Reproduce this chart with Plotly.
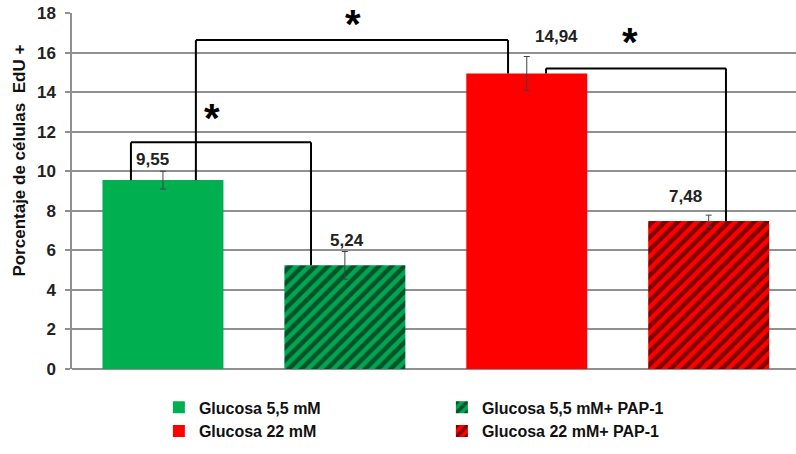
import plotly.graph_objects as go

# Grupos experimentales y porcentaje de células EdU+
groups = ["Glucosa 5,5 mM", "Glucosa 5,5 mM+ PAP-1", "Glucosa 22 mM", "Glucosa 22 mM+ PAP-1"]
values = [9.55, 5.24, 14.94, 7.48]
errors = [0.45, 0.70, 0.86, 0.30]
y_ticks = [0, 2, 4, 6, 8, 10, 12, 14, 16, 18]

FONT = "Liberation Sans, Arial, sans-serif"
fills = ["#00B050", "#00A651", "#FF0000", "#FF0000"]
hatched = [False, True, False, True]

fig = go.Figure()
for i, (g, v, e) in enumerate(zip(groups, values, errors)):
    pattern = dict(shape="/", fgcolor="#000000", bgcolor=fills[i], size=9, solidity=0.5) if hatched[i] else dict(shape="")
    fig.add_trace(go.Bar(
        x=[g], y=[v], name=g, width=0.665,
        marker=dict(color=fills[i], line=dict(width=0), pattern=pattern),
        error_y=dict(type="data", array=[e], visible=True, color="#444444", thickness=1, width=3),
        hoverinfo="skip",
    ))

# Etiquetas de valor (coma decimal)
label_dx = [-0.055, 0.01, 0.166, -0.13]
label_dy = [1.02, 1.28, 1.89, 1.22]
for i, v in enumerate(values):
    fig.add_annotation(x=i + label_dx[i], y=v + label_dy[i], text=f"{v:.2f}".replace(".", ","),
                       showarrow=False, font=dict(family=FONT, size=17, color="#222222", weight="bold"),
                       xanchor="center", yanchor="middle")

# Corchetes de significación
line = dict(color="#000000", width=2)
def bracket(x0, x1, y_left, y_right, top):
    fig.add_shape(type="line", x0=x0, x1=x0, y0=y_left, y1=top, line=line)
    fig.add_shape(type="line", x0=x0, x1=x1, y0=top, y1=top, line=line)
    fig.add_shape(type="line", x0=x1, x1=x1, y0=top, y1=y_right, line=line)

bracket(-0.176, 0.814, values[0], values[1], 11.46)
bracket(0.181, 1.897, values[0], values[2], 16.63)
bracket(2.106, 3.095, values[2], values[3], 15.20)

for sx, sy in [(0.27, 12.95), (1.043, 17.7), (2.567, 16.8)]:
    fig.add_annotation(x=sx, y=sy, text="*", showarrow=False,
                       font=dict(family=FONT, size=40, color="#000000", weight="bold"),
                       xanchor="center", yanchor="top", yshift=19)

# Título del eje Y
fig.add_annotation(xref="paper", yref="paper", x=-0.072, y=0.585, text="Porcentaje de células  EdU +",
                   textangle=-90, showarrow=False,
                   font=dict(family=FONT, size=17, color="#111111", weight="bold"),
                   xanchor="center", yanchor="middle")

fig.update_layout(
    width=796, height=454,
    margin=dict(l=72, r=0, t=13, b=85),
    paper_bgcolor="white", plot_bgcolor="white",
    barmode="overlay",
    showlegend=True,
    legend=dict(orientation="h", x=0.12, y=-0.06, xanchor="left", yanchor="top",
                entrywidth=238, entrywidthmode="pixels",
                font=dict(family=FONT, size=16, color="#111111", weight="bold"),
                itemclick=False, itemdoubleclick=False, tracegroupgap=0),
    xaxis=dict(range=[-0.5, 3.48], showticklabels=False, showgrid=False, zeroline=False,
               showline=False, ticks=""),
    yaxis=dict(range=[0, 18], tickvals=y_ticks, showgrid=True, gridcolor="#909090", gridwidth=1.5,
               showline=True, linecolor="#909090", linewidth=1.5, ticks="outside", ticklen=5,
               tickcolor="#909090", tickwidth=1.5, zeroline=True, zerolinecolor="#909090",
               zerolinewidth=1.5, ticklabelstandoff=6,
               tickfont=dict(family=FONT, size=17, color="#222222", weight="bold")),
    font=dict(family=FONT),
)

fig.write_html("out.html")
